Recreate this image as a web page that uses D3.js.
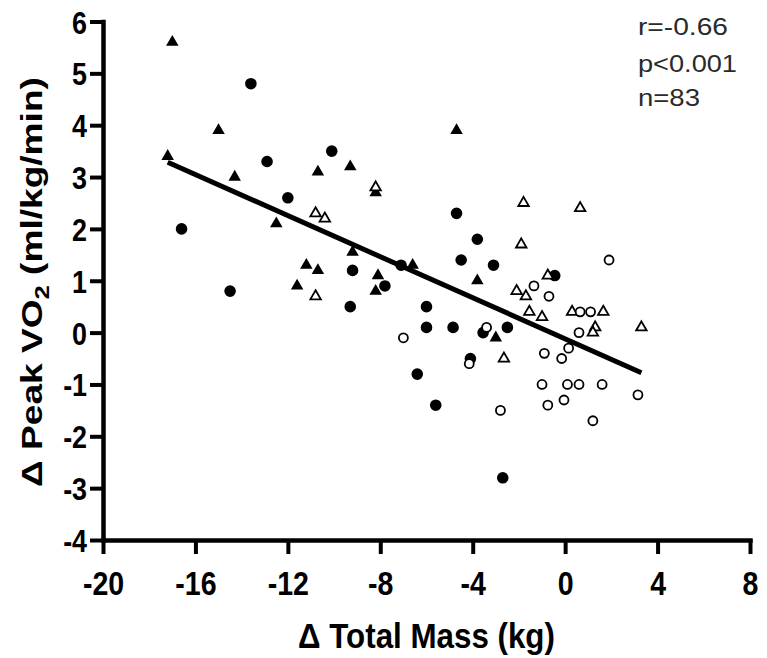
<!DOCTYPE html>
<html>
<head>
<meta charset="utf-8">
<script src="https://cdn.jsdelivr.net/npm/d3@7"></script>
<style>
  html, body { margin: 0; padding: 0; background: #fff; }
  svg { display: block; }
  text { font-family: "Liberation Sans", Arial, Helvetica, sans-serif; }
</style>
</head>
<body>
<svg id="chart" width="767" height="658"></svg>
<script>
// ---------- data ----------
const xTicks = [-20, -16, -12, -8, -4, 0, 4, 8];
const yTicks = [-4, -3, -2, -1, 0, 1, 2, 3, 4, 5, 6];

// filled triangles
const filledTriX = [-17.0, -17.2, -15.0, -14.3, -12.5, -10.7, -9.3, -8.2, -9.2, -11.2, -10.7, -11.6, -8.1, -8.2, -6.6, -4.7, -3.8, -3.0];
const filledTriY = [5.6, 3.4, 3.9, 3.0, 2.1, 3.1, 3.2, 2.7, 1.55, 1.3, 1.2, 0.9, 1.1, 0.8, 1.3, 3.9, 1.0, -0.1];

// filled circles
const filledCircX = [-13.6, -12.9, -10.1, -12.0, -16.6, -14.5, -9.2, -9.3, -7.8, -7.1, -6.0, -6.0, -4.85, -4.7, -3.8, -4.5, -3.1, -3.55, -2.5, -4.1, -6.4, -5.6, -2.7, -0.45];
const filledCircY = [4.8, 3.3, 3.5, 2.6, 2.0, 0.8, 1.2, 0.5, 0.9, 1.3, 0.5, 0.1, 0.1, 2.3, 1.8, 1.4, 1.3, 0.0, 0.1, -0.5, -0.8, -1.4, -2.8, 1.1];

// open triangles
const openTriX = [-8.2, -10.8, -10.4, -10.8, -1.8, 0.65, -1.9, -2.1, -1.7, -0.75, -1.55, -1.0, 0.3, 1.65, 3.3, 1.3, 1.2, -2.65];
const openTriY = [2.8, 2.3, 2.2, 0.7, 2.5, 2.4, 1.7, 0.8, 0.7, 1.1, 0.4, 0.3, 0.4, 0.4, 0.1, 0.1, 0.0, -0.5];

// open circles
const openCircX = [-7.0, -3.4, -1.35, -0.7, 1.9, 0.65, 1.1, 0.6, 0.15, -0.9, -0.15, -4.15, -1.0, 0.1, 0.6, 1.6, 3.15, -0.05, -0.75, -2.8, 1.2];
const openCircY = [-0.1, 0.1, 0.9, 0.7, 1.4, 0.4, 0.4, 0.0, -0.3, -0.4, -0.5, -0.6, -1.0, -1.0, -1.0, -1.0, -1.2, -1.3, -1.4, -1.5, -1.7];

// regression line
const regX = [-17.2, 3.3];
const regSlope = -0.198;
const regIntercept = -0.12;

// statistics annotation
const statLines = ["r=-0.66", "p<0.001", "n=83"];

// ---------- layout ----------
const svg = d3.select("#chart");
const mLeft = 103, mRight = 750, mTop = 21.5, mBottom = 540;

const x = d3.scaleLinear().domain([-20, 8]).range([mLeft, mRight]);
const y = d3.scaleLinear().domain([-4, 6]).range([mBottom, mTop]);

// regression line (under markers)
svg.append("line")
  .attr("x1", x(regX[0])).attr("y1", y(regIntercept + regSlope * regX[0]))
  .attr("x2", x(regX[1])).attr("y2", y(regIntercept + regSlope * regX[1]))
  .attr("stroke", "#000").attr("stroke-width", 5);

// markers
function pts(xs, ys) { return xs.map((v, i) => [v, ys[i]]); }
const circ = (r) => d3.symbol().type(d3.symbolCircle).size(Math.PI * r * r)();
const tri = (s) => d3.symbol().type(d3.symbolTriangle).size(0.433 * s * s)();

svg.append("g").selectAll("path").data(pts(filledTriX, filledTriY)).join("path")
  .attr("d", tri(12.5))
  .attr("transform", d => `translate(${x(d[0])},${y(d[1])})`)
  .attr("fill", "#000");

svg.append("g").selectAll("path").data(pts(filledCircX, filledCircY)).join("path")
  .attr("d", circ(5.8))
  .attr("transform", d => `translate(${x(d[0])},${y(d[1])})`)
  .attr("fill", "#000");

svg.append("g").selectAll("path").data(pts(openTriX, openTriY)).join("path")
  .attr("d", tri(10.5))
  .attr("transform", d => `translate(${x(d[0])},${y(d[1])})`)
  .attr("fill", "#fff").attr("stroke", "#000").attr("stroke-width", 1.8);

svg.append("g").selectAll("path").data(pts(openCircX, openCircY)).join("path")
  .attr("d", circ(4.5))
  .attr("transform", d => `translate(${x(d[0])},${y(d[1])})`)
  .attr("fill", "#fff").attr("stroke", "#000").attr("stroke-width", 1.8);

// axes
const fmt = d => String(d);
const xAxis = svg.append("g").attr("transform", `translate(0,${mBottom})`)
  .call(d3.axisBottom(x).tickValues(xTicks).tickSize(14).tickSizeOuter(0).tickFormat(fmt));
const yAxis = svg.append("g").attr("transform", `translate(${mLeft},0)`)
  .call(d3.axisLeft(y).tickValues(yTicks).tickSize(13).tickSizeOuter(0).tickFormat(fmt));

[xAxis, yAxis].forEach(g => {
  g.select(".domain").attr("stroke", "#000").attr("stroke-width", 4.5).attr("stroke-linecap", "square");
  g.selectAll(".tick line").attr("stroke", "#000").attr("stroke-width", 4);
});

xAxis.selectAll(".tick text")
  .attr("y", 55).attr("dy", 0)
  .attr("font-size", 34).attr("font-weight", "bold").attr("fill", "#000")
  .attr("transform", "scale(0.84,1)");

yAxis.selectAll(".tick text")
  .attr("x", -19).attr("dy", "0.36em")
  .attr("font-size", 32).attr("font-weight", "bold").attr("fill", "#000")
  .attr("transform", "scale(0.84,1)");

// helper to stretch text to a measured width
function fit(t, w) {
  const n = t.node().getComputedTextLength();
  return w / n;
}

// x title
const xt = svg.append("text")
  .attr("text-anchor", "middle")
  .attr("font-size", 35).attr("font-weight", "bold").attr("fill", "#000")
  .text("\u0394 Total Mass (kg)");
const kx = fit(xt, 257);
xt.attr("transform", `translate(${(mLeft + mRight) / 2},648) scale(${kx},1)`);

// y title
const yt = svg.append("text")
  .attr("text-anchor", "middle")
  .attr("font-size", 29).attr("font-weight", "bold").attr("fill", "#000");
yt.append("tspan").text("\u0394 Peak VO");
yt.append("tspan").attr("font-size", 20).attr("dy", 7).text("2");
yt.append("tspan").attr("dy", -7).text(" (ml/kg/min)");
const ky = fit(yt, 410);
yt.attr("transform", `translate(42,282) rotate(-90) scale(${ky},1)`);

// statistics annotation
const statW = [90, 99, 62];
const statBase = [35, 72, 106];
statLines.forEach((s, i) => {
  const t = svg.append("text")
    .attr("font-size", 24).attr("fill", "#2a2a2a")
    .text(s);
  const k = fit(t, statW[i]);
  t.attr("transform", `translate(638,${statBase[i]}) scale(${k},1)`);
});
</script>
</body>
</html>
